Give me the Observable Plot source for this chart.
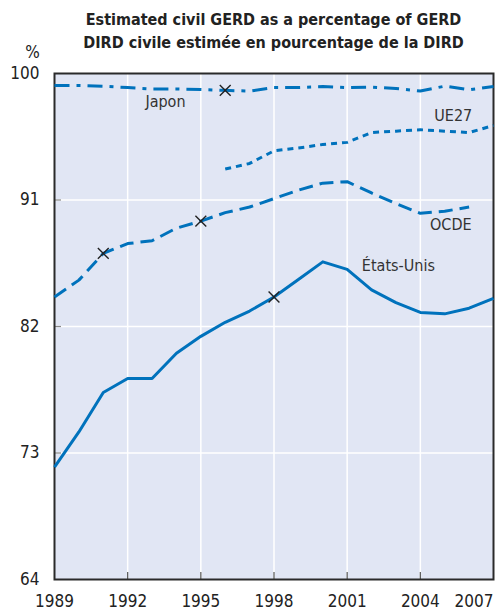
<!DOCTYPE html>
<html><head><meta charset="utf-8">
<script src="https://cdn.jsdelivr.net/npm/d3@7"></script>
<script src="https://cdn.jsdelivr.net/npm/@observablehq/plot@0.6"></script>
<style>
body{margin:0;background:#fff;font-family:"DejaVu Sans Condensed",sans-serif;}
#title{box-sizing:border-box;height:53px;padding-top:8px;padding-left:54px;padding-right:4px;width:497px;text-align:center;font-weight:bold;font-size:16px;line-height:23px;color:#222;}
#chart svg{overflow:visible;}
</style></head><body>
<div id="title"><div>Estimated civil GERD as a percentage of GERD</div><div>DIRD civile estimée en pourcentage de la DIRD</div></div>
<div id="chart"></div>
<script>
const years = [1989,1990,1991,1992,1993,1994,1995,1996,1997,1998,1999,2000,2001,2002,2003,2004,2005,2006,2007];
const etatsUnis = [72.0,74.5,77.3,78.3,78.3,80.1,81.3,82.3,83.1,84.1,85.35,86.6,86.06,84.6,83.7,83.0,82.9,83.3,84.0];
const ocde = [84.1,85.3,87.2,87.9,88.1,89.0,89.5,90.1,90.5,91.1,91.7,92.2,92.3,91.5,90.75,90.05,90.2,90.5,null];
const ue27 = [null,null,null,null,null,null,null,93.2,93.6,94.5,94.7,94.95,95.1,95.8,95.9,96.0,95.9,95.8,96.3];
const japon = [99.15,99.15,99.1,99.0,98.9,98.9,98.86,98.8,98.75,99.0,99.0,99.07,99.0,99.03,98.93,98.75,99.1,98.85,99.07];

const seriesNames = ["États-Unis","OCDE","UE27","Japon"];
const seriesValues = [etatsUnis, ocde, ue27, japon];

const markerSeries = ["Japon","OCDE","OCDE","États-Unis"];
const markerYears = [1996, 1991, 1995, 1998];

const labelNames = ["Japon","UE27","OCDE","États-Unis"];
const labelYears = [1993.55, 2005.35, 2005.25, 2003.1];
const labelValues = [97.95, 97.0, 89.2, 86.3];

const xTicks = [1989,1992,1995,1998,2001,2004,2007];
const yTicks = [64,73,82,91,100];

const blue = "#0072bc";
const dashes = {"États-Unis": null, "OCDE": "14,7", "UE27": "6,5", "Japon": "15,7,4,7"};

const rows = seriesNames.map((name, i) =>
  years.map((year, j) => ({series: name, year, value: seriesValues[i][j]})).filter(d => d.value != null));
const markers = markerSeries.map((s, i) => {
  const k = seriesNames.indexOf(s);
  return {year: markerYears[i], value: seriesValues[k][years.indexOf(markerYears[i])]};
});
const labels = labelNames.map((t, i) => ({text: t, year: labelYears[i], value: labelValues[i]}));

const font = '"DejaVu Sans Condensed",sans-serif';
const innerX = xTicks.slice(1, -1);
const innerY = yTicks.slice(1, -1);

const chart = Plot.plot({
  width: 497, height: 560,
  marginTop: 20, marginBottom: 34, marginLeft: 54, marginRight: 4,
  style: {fontFamily: font, fontSize: "16px", color: "#222", background: "transparent", overflow: "visible"},
  x: {domain: [1989, 2007], label: null, tickFormat: "d"},
  y: {domain: [64, 100], label: null},
  marks: [
    Plot.frame({fill: "#e1e6f4", stroke: "none"}),
    Plot.gridX(innerX, {stroke: "white", strokeOpacity: 1, strokeWidth: 1.5}),
    Plot.gridY(innerY, {stroke: "white", strokeOpacity: 1, strokeWidth: 1.5}),
    Plot.axisX(innerX, {tickSize: -7, text: null, stroke: "#555", strokeWidth: 1.2}),
    Plot.axisY(innerY, {tickSize: -7, text: null, stroke: "#888", strokeWidth: 1.2}),
    Plot.axisX(xTicks.slice(0, -1), {tickSize: 0, tickPadding: 15, fontSize: 17, fill: "#222", tickFormat: "d"}),
    Plot.axisX(xTicks.slice(-1), {tickSize: 0, tickPadding: 15, fontSize: 17, fill: "#222", textAnchor: "end", tickFormat: "d"}),
    Plot.axisY(yTicks, {tickSize: 0, tickPadding: 15, fontSize: 17, fill: "#222"}),
    Plot.frame({stroke: "#2a2a2a", strokeWidth: 2}),
    ...rows.map((r, i) => Plot.line(r, {x: "year", y: "value", stroke: blue, strokeWidth: 3,
      strokeDasharray: dashes[seriesNames[i]], strokeLinecap: "butt", curve: "linear"})),
    Plot.dot(markers, {x: "year", y: "value", symbol: "times", r: 5, stroke: "#222", strokeWidth: 1.4}),
    Plot.text(labels, {x: "year", y: "value", text: "text", fontSize: 16, fill: "#333"}),
    Plot.text(["%"], {frameAnchor: "top-left", dx: -22, dy: -21, textAnchor: "middle", lineAnchor: "middle", fontSize: 17, fill: "#222"})
  ]
});
document.getElementById("chart").appendChild(chart);
</script>
</body></html>
